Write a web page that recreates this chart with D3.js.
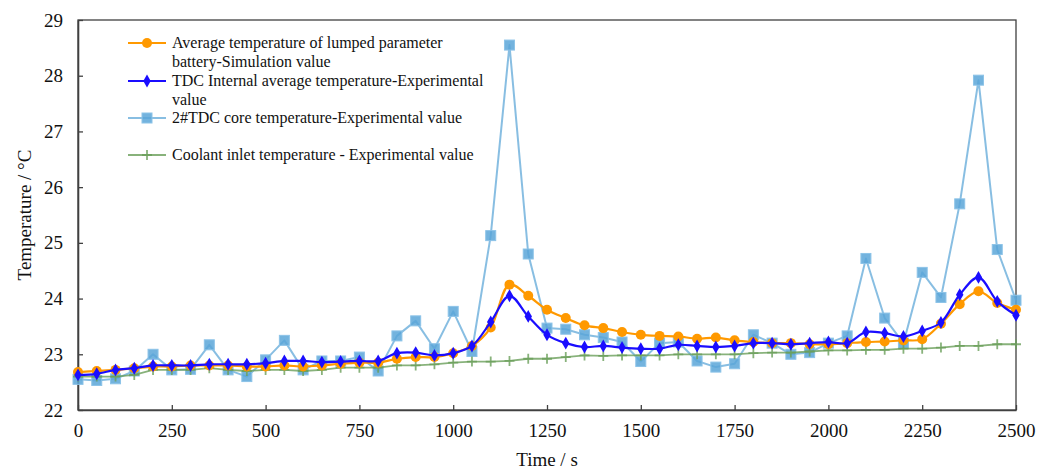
<!DOCTYPE html>
<html>
<head>
<meta charset="utf-8">
<script src="https://cdn.jsdelivr.net/npm/d3@7"></script>
<style>
  html, body { margin: 0; padding: 0; background: #fff; }
  svg { display: block; font-family: "Liberation Serif", "Times New Roman", serif; }
  svg text { font-family: "Liberation Serif", "Times New Roman", serif; }
</style>
</head>
<body>
<svg id="chart" width="1048" height="472"></svg>
<script>
// Sampling times (s)
const times = d3.range(0, 2501, 50);

// Average temperature of lumped parameter battery (simulation)
const simAvg = [22.68,22.70,22.72,22.75,22.78,22.78,22.80,22.80,22.80,22.78,
  22.78,22.80,22.78,22.80,22.83,22.85,22.85,22.92,22.95,22.95,
  23.02,23.15,23.48,24.25,24.05,23.80,23.65,23.52,23.47,23.40,
  23.35,23.33,23.32,23.28,23.30,23.25,23.22,23.20,23.20,23.18,
  23.18,23.20,23.22,23.23,23.25,23.27,23.55,23.90,24.13,23.92,23.80];

// TDC internal average temperature (experimental)
const tdcAvg = [22.63,22.65,22.72,22.75,22.80,22.80,22.80,22.82,22.82,22.82,
  22.84,22.88,22.88,22.86,22.87,22.88,22.88,23.02,23.03,22.98,
  23.02,23.15,23.58,24.05,23.68,23.35,23.20,23.13,23.15,23.12,
  23.10,23.10,23.17,23.15,23.13,23.15,23.20,23.20,23.18,23.20,
  23.22,23.20,23.40,23.38,23.32,23.42,23.57,24.07,24.38,23.95,23.70];

// 2#TDC core temperature (experimental)
const tdcCore = [22.55,22.53,22.56,22.70,23.00,22.72,22.73,23.17,22.72,22.60,
  22.90,23.25,22.72,22.88,22.88,22.95,22.70,23.33,23.60,23.10,
  23.77,23.05,25.13,28.55,24.80,23.47,23.45,23.35,23.30,23.22,
  22.87,23.20,23.22,22.88,22.77,22.83,23.35,23.20,23.00,23.03,
  23.20,23.33,24.72,23.65,23.20,24.47,24.02,25.70,27.92,24.88,23.97];

// Coolant inlet temperature (experimental)
const coolant = [22.60,22.60,22.60,22.63,22.72,22.72,22.72,22.75,22.72,22.70,
  22.72,22.72,22.70,22.72,22.76,22.76,22.76,22.80,22.80,22.82,
  22.85,22.87,22.87,22.88,22.92,22.92,22.95,22.98,22.97,22.98,
  22.98,22.98,23.00,23.00,23.00,23.00,23.02,23.03,23.03,23.05,
  23.07,23.07,23.08,23.08,23.10,23.10,23.12,23.15,23.15,23.18,23.18];

const xTicks = [0, 250, 500, 750, 1000, 1250, 1500, 1750, 2000, 2250, 2500];
const yTicks = [22, 23, 24, 25, 26, 27, 28, 29];

const legendLabels = [
  ["Average temperature of lumped parameter", "battery-Simulation value"],
  ["TDC Internal average temperature-Experimental", "value"],
  ["2#TDC core temperature-Experimental value"],
  ["Coolant inlet temperature - Experimental value"]
];

const svg = d3.select("#chart");
const m = { left: 78, right: 1016, top: 20, bottom: 410 };

const x = d3.scaleLinear().domain([0, 2500]).range([m.left, m.right]);
const y = d3.scaleLinear().domain([22, 29]).range([m.bottom, m.top]);

const axisColor = "#404040";
const serif = "'Liberation Serif', 'Times New Roman', serif";

// Frame
svg.append("rect")
  .attr("x", m.left).attr("y", m.top)
  .attr("width", m.right - m.left).attr("height", m.bottom - m.top)
  .attr("fill", "none").attr("stroke", axisColor).attr("stroke-width", 1.3);

// Axes with inward ticks
const xAxis = svg.append("g").attr("transform", `translate(0,${m.bottom})`)
  .call(d3.axisBottom(x).tickValues(xTicks).tickSizeInner(-5).tickSizeOuter(0)
    .tickPadding(14).tickFormat(d3.format("d")));
const yAxis = svg.append("g").attr("transform", `translate(${m.left},0)`)
  .call(d3.axisLeft(y).tickValues(yTicks).tickSizeInner(-5).tickSizeOuter(0)
    .tickPadding(15).tickFormat(d3.format("d")));

[xAxis, yAxis].forEach(a => {
  a.attr("font-family", serif);
  a.select(".domain").attr("stroke", axisColor).attr("stroke-width", 1.6);
  a.selectAll(".tick line").attr("stroke", axisColor).attr("stroke-width", 1.3);
  a.selectAll(".tick text").attr("fill", "#111").style("font-size", "19px");
});

// Axis titles
svg.append("text").attr("x", (m.left + m.right) / 2).attr("y", 466)
  .attr("text-anchor", "middle").style("font-size", "19px").attr("fill", "#111")
  .text("Time / s");
svg.append("text")
  .attr("transform", `translate(31,${(m.top + m.bottom) / 2}) rotate(-90)`)
  .attr("text-anchor", "middle").style("font-size", "19px").attr("fill", "#111")
  .text("Temperature / °C");

const series = [
  { key: "core", values: tdcCore, color: "#6aaedb", alpha: 0.8, width: 2, curve: d3.curveLinear, marker: "square" },
  { key: "coolant", values: coolant, color: "#6a9f5a", alpha: 0.8, width: 1.8, curve: d3.curveLinear, marker: "plus" },
  { key: "sim", values: simAvg, color: "#ff9900", alpha: 1, width: 2.2, curve: d3.curveCatmullRom.alpha(0.5), marker: "circle" },
  { key: "tdc", values: tdcAvg, color: "#1a0dff", alpha: 1, width: 2.2, curve: d3.curveCatmullRom.alpha(0.5), marker: "diamond" }
];

function drawMarker(g, type, color, cx, cy, alpha) {
  if (type === "circle") {
    g.append("circle").attr("cx", cx).attr("cy", cy).attr("r", 5).attr("fill", color);
  } else if (type === "diamond") {
    g.append("path").attr("d", d3.symbol(d3.symbolDiamond, 48)())
      .attr("transform", `translate(${cx},${cy})`).attr("fill", color);
  } else if (type === "square") {
    g.append("rect").attr("x", cx - 5).attr("y", cy - 5).attr("width", 10).attr("height", 10)
      .attr("fill", "#5aa6d8").attr("fill-opacity", 0.85)
      .attr("stroke", "#8cc3e8").attr("stroke-width", 1);
  } else if (type === "plus") {
    g.append("path").attr("d", `M${cx - 5},${cy}H${cx + 5}M${cx},${cy - 5}V${cy + 5}`)
      .attr("stroke", color).attr("stroke-width", 1.8).attr("stroke-opacity", alpha);
  }
}

const plot = svg.append("g");
series.forEach(s => {
  const line = d3.line().x((d, i) => x(times[i])).y(d => y(d)).curve(s.curve);
  plot.append("path").datum(s.values).attr("d", line)
    .attr("fill", "none").attr("stroke", s.color).attr("stroke-width", s.width)
    .attr("stroke-opacity", s.alpha).attr("stroke-linejoin", "round");
  const mg = plot.append("g");
  s.values.forEach((v, i) => drawMarker(mg, s.marker, s.color, x(times[i]), y(v), s.alpha));
});

// Legend
const legendOrder = ["sim", "tdc", "core", "coolant"];
const legendY = [43, 81, 118, 155];
const leg = svg.append("g");
legendOrder.forEach((k, i) => {
  const s = series.find(d => d.key === k);
  const ly = legendY[i];
  leg.append("line").attr("x1", 128).attr("x2", 166).attr("y1", ly).attr("y2", ly)
    .attr("stroke", s.color).attr("stroke-width", s.width).attr("stroke-opacity", s.alpha);
  drawMarker(leg, s.marker, s.color, 147, ly, s.alpha);
  legendLabels[i].forEach((t, j) => {
    leg.append("text").attr("x", 172).attr("y", ly + 5 + j * 19)
      .style("font-size", "16px").attr("fill", "#111").text(t);
  });
});
</script>
</body>
</html>
